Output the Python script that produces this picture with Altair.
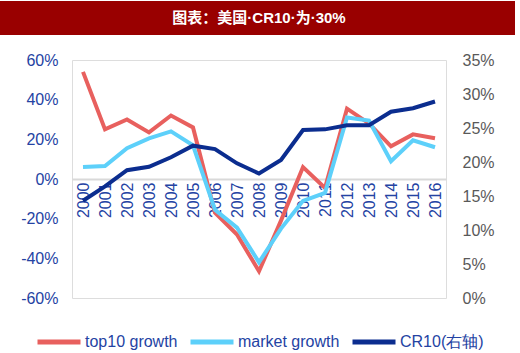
import altair as alt
import pandas as pd

years = [str(y) for y in range(2000, 2017)]
top10_growth = [54, 25, 30, 23.5, 32, 26, -17, -28, -46.5, -21, 6, -4.5, 35.5, 28, 16.5, 22.5, 20.5]
market_growth = [6, 6.5, 15.5, 20.5, 24, 17, -15.5, -24.5, -42, -25, -11, -7, 31, 29.5, 9, 19.5, 16]
cr10 = [14.3, 16.4, 18.8, 19.3, 20.7, 22.4, 21.9, 19.8, 18.3, 20.3, 24.7, 24.8, 25.4, 25.4, 27.4, 27.9, 28.9]
series_names = ["top10 growth", "market growth", "CR10(右轴)"]
series_colors = ["#E8605E", "#5DD0FA", "#0B2D8F"]
left_ticks = [-60, -40, -20, 0, 20, 40, 60]
right_ticks = [0, 5, 10, 15, 20, 25, 30, 35]
title_text = "图表：美国·CR10·为·30%"

growth_df = pd.DataFrame({
    "year": years * 2,
    "value": top10_growth + market_growth,
    "series": [series_names[0]] * len(years) + [series_names[1]] * len(years),
})
cr_df = pd.DataFrame({"year": years, "value": cr10, "series": [series_names[2]] * len(years)})

FONT = "Liberation Sans"
BLUE = "#2443A3"

color = alt.Color(
    "series:N",
    scale=alt.Scale(domain=series_names, range=series_colors),
    legend=alt.Legend(
        title=None, orient="none", legendX=-37, legendY=258, direction="horizontal",
        symbolType="stroke", symbolSize=1849, symbolStrokeWidth=5,
        labelFont=FONT, labelFontSize=16, labelColor=BLUE, labelOffset=2,
        columnPadding=2, labelLimit=200, padding=0,
    ),
    sort=series_names,
)

xenc = alt.X(
    "year:O", scale=alt.Scale(type="point", padding=0.5),
    axis=alt.Axis(
        title=None, orient="bottom", offset=-119, domainColor="#D9D9D9", domainWidth=2,
        ticks=False, labelAngle=270, labelFont=FONT, labelFontSize=16, labelColor=BLUE,
        labelPadding=3,
    ),
)

growth = alt.Chart(growth_df).mark_line(strokeWidth=4).encode(
    x=xenc,
    y=alt.Y(
        "value:Q", scale=alt.Scale(domain=[-60, 60], nice=False),
        axis=alt.Axis(
            title=None, values=left_ticks, labelExpr="datum.value + '%'", grid=False,
            domain=False, ticks=False, labelFont=FONT, labelFontSize=16, labelColor=BLUE,
            labelPadding=14,
        ),
    ),
    color=color,
    order=alt.Order("series:N"),
)

crl = alt.Chart(cr_df).mark_line(strokeWidth=4).encode(
    x=xenc,
    y=alt.Y(
        "value:Q", scale=alt.Scale(domain=[0, 35], nice=False),
        axis=alt.Axis(
            title=None, orient="right", values=right_ticks, labelExpr="datum.value + '%'",
            grid=False, domain=False, ticks=False, labelFont=FONT, labelFontSize=16,
            labelColor="#595959", labelPadding=16,
        ),
    ),
    color=color,
)

tdf = pd.DataFrame({"t": [title_text]})
bar = alt.Chart(tdf).mark_rect(color="#990000").encode(
    x=alt.value(-72), x2=alt.value(443), y=alt.value(-59), y2=alt.value(-25)
)
ttext = alt.Chart(tdf).mark_text(
    color="white", font="Liberation Sans, Noto Sans CJK SC", fontWeight="bold", fontSize=15,
    baseline="middle", align="center"
).encode(x=alt.value(187), y=alt.value(-42), text="t:N")

main = alt.layer(growth, crl).resolve_scale(y="independent")

chart = alt.layer(bar, ttext, main).properties(
    width=374, height=238,
    padding={"left": 72, "top": 60, "right": 74, "bottom": 55},
    autosize=alt.AutoSizeParams(type="none"),
).configure_view(stroke=None).configure(background="white")

chart.save("out.html", embed_options={"renderer": "svg", "actions": False})
